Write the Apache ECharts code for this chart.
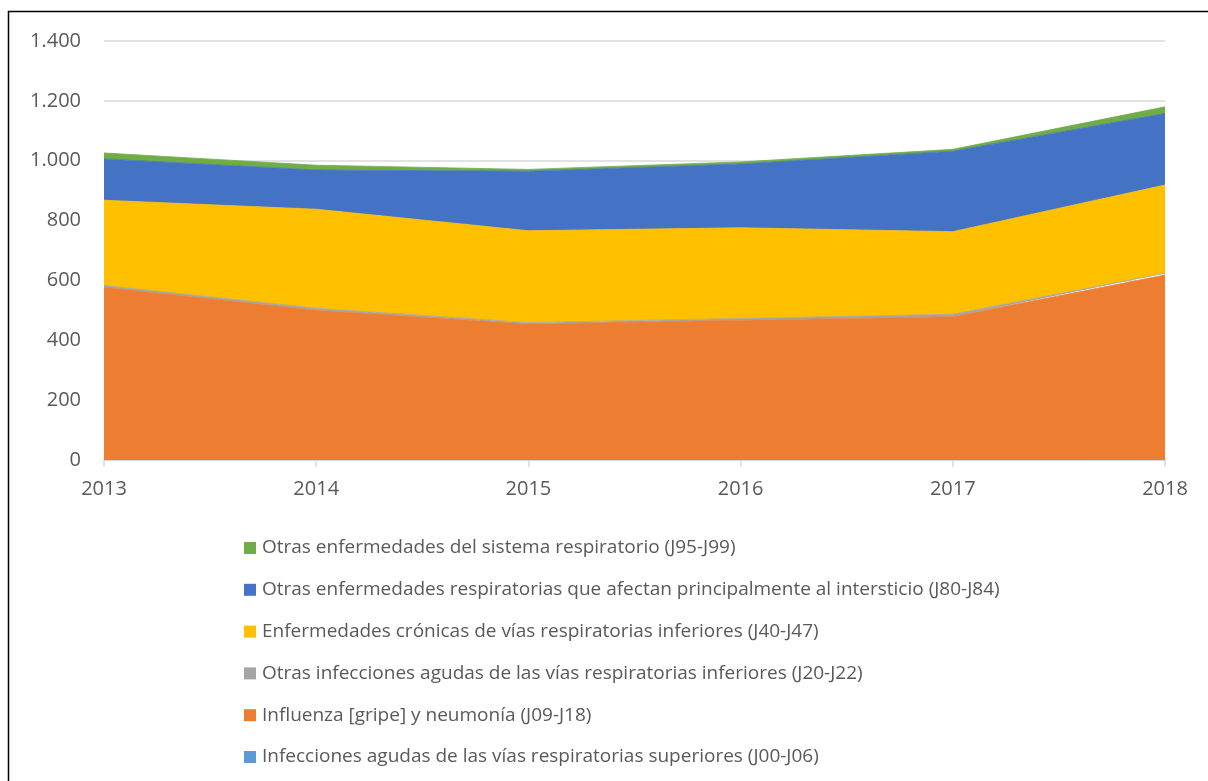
<!DOCTYPE html>
<html>
<head>
<meta charset="utf-8">
<script src="https://cdn.jsdelivr.net/npm/echarts@6/dist/echarts.min.js"></script>
<style>
  html, body { margin: 0; padding: 0; background: #fff; }
  #chart { width: 1208px; height: 781px; }
</style>
</head>
<body>
<div id="chart"></div>
<script>
// años
const years = ['2013', '2014', '2015', '2016', '2017', '2018'];

// series (de abajo hacia arriba en la pila)
const superiores = [1, 1, 1, 1, 1, 1];
const influenza = [576, 499, 453, 466, 478, 617];
const otrasInfecciones = [6, 7, 5, 6, 8, 6];
const cronicas = [285, 331, 307, 303, 276, 295];
const intersticio = [138, 131, 199, 213, 269, 239];
const otrasSistema = [20, 16, 6, 7, 6, 22];

const names = [
  'Infecciones agudas de las vías respiratorias superiores (J00-J06)',
  'Influenza [gripe] y neumonía (J09-J18)',
  'Otras infecciones agudas de las vías respiratorias inferiores (J20-J22)',
  'Enfermedades crónicas de vías respiratorias inferiores (J40-J47)',
  'Otras enfermedades respiratorias que afectan principalmente al intersticio (J80-J84)',
  'Otras enfermedades del sistema respiratorio (J95-J99)'
];
const colors = ['#5B9BD5', '#ED7D31', '#A5A5A5', '#FFC000', '#4472C4', '#70AD47'];
const values = [superiores, influenza, otrasInfecciones, cronicas, intersticio, otrasSistema];

const chart = echarts.init(document.getElementById('chart'));

// serie de área apilada
function area(i) {
  return {
    name: names[i],
    type: 'line',
    stack: 'total',
    data: values[i],
    showSymbol: false,
    symbol: 'none',
    lineStyle: { width: 0.8, color: colors[i] },
    areaStyle: { color: colors[i], opacity: 1 },
    itemStyle: { color: colors[i] },
    z: 2
  };
}

chart.setOption({
  animation: false,
  textStyle: { fontFamily: 'Open Sans' },
  graphic: [{
    type: 'rect',
    shape: { x: 8.5, y: 11.5, width: 1300, height: 900 },
    style: { fill: null, stroke: '#000', lineWidth: 1.5 },
    silent: true
  }],
  grid: { left: 104, right: 43, top: 41, height: 419 },
  legend: {
    orient: 'vertical',
    left: 239,
    top: 533,
    height: 260,
    itemWidth: 12,
    itemHeight: 12,
    itemGap: 21.8,
    icon: 'rect',
    data: names.slice().reverse(),
    textStyle: { fontSize: 19, lineHeight: 20, color: '#595959', fontFamily: 'Open Sans', padding: [0, 0, 0, 1] }
  },
  xAxis: {
    type: 'category',
    data: years,
    boundaryGap: false,
    axisLine: { lineStyle: { color: '#d9d9d9', width: 1.5 } },
    axisTick: { show: true, length: 7, lineStyle: { color: '#d9d9d9', width: 1.5 } },
    axisLabel: { fontSize: 20, color: '#595959', margin: 19 }
  },
  yAxis: {
    type: 'value',
    min: 0,
    max: 1400,
    interval: 200,
    axisLine: { show: false },
    axisTick: { show: false },
    splitLine: { lineStyle: { color: '#d9d9d9', width: 1.5 } },
    axisLabel: {
      fontSize: 20,
      color: '#595959',
      margin: 23,
      formatter: function (v) {
        return String(v).replace(/\B(?=(\d{3})+(?!\d))/g, '.');
      }
    }
  },
  series: [0, 1, 2, 3, 4, 5].map(area)
});
</script>
</body>
</html>
